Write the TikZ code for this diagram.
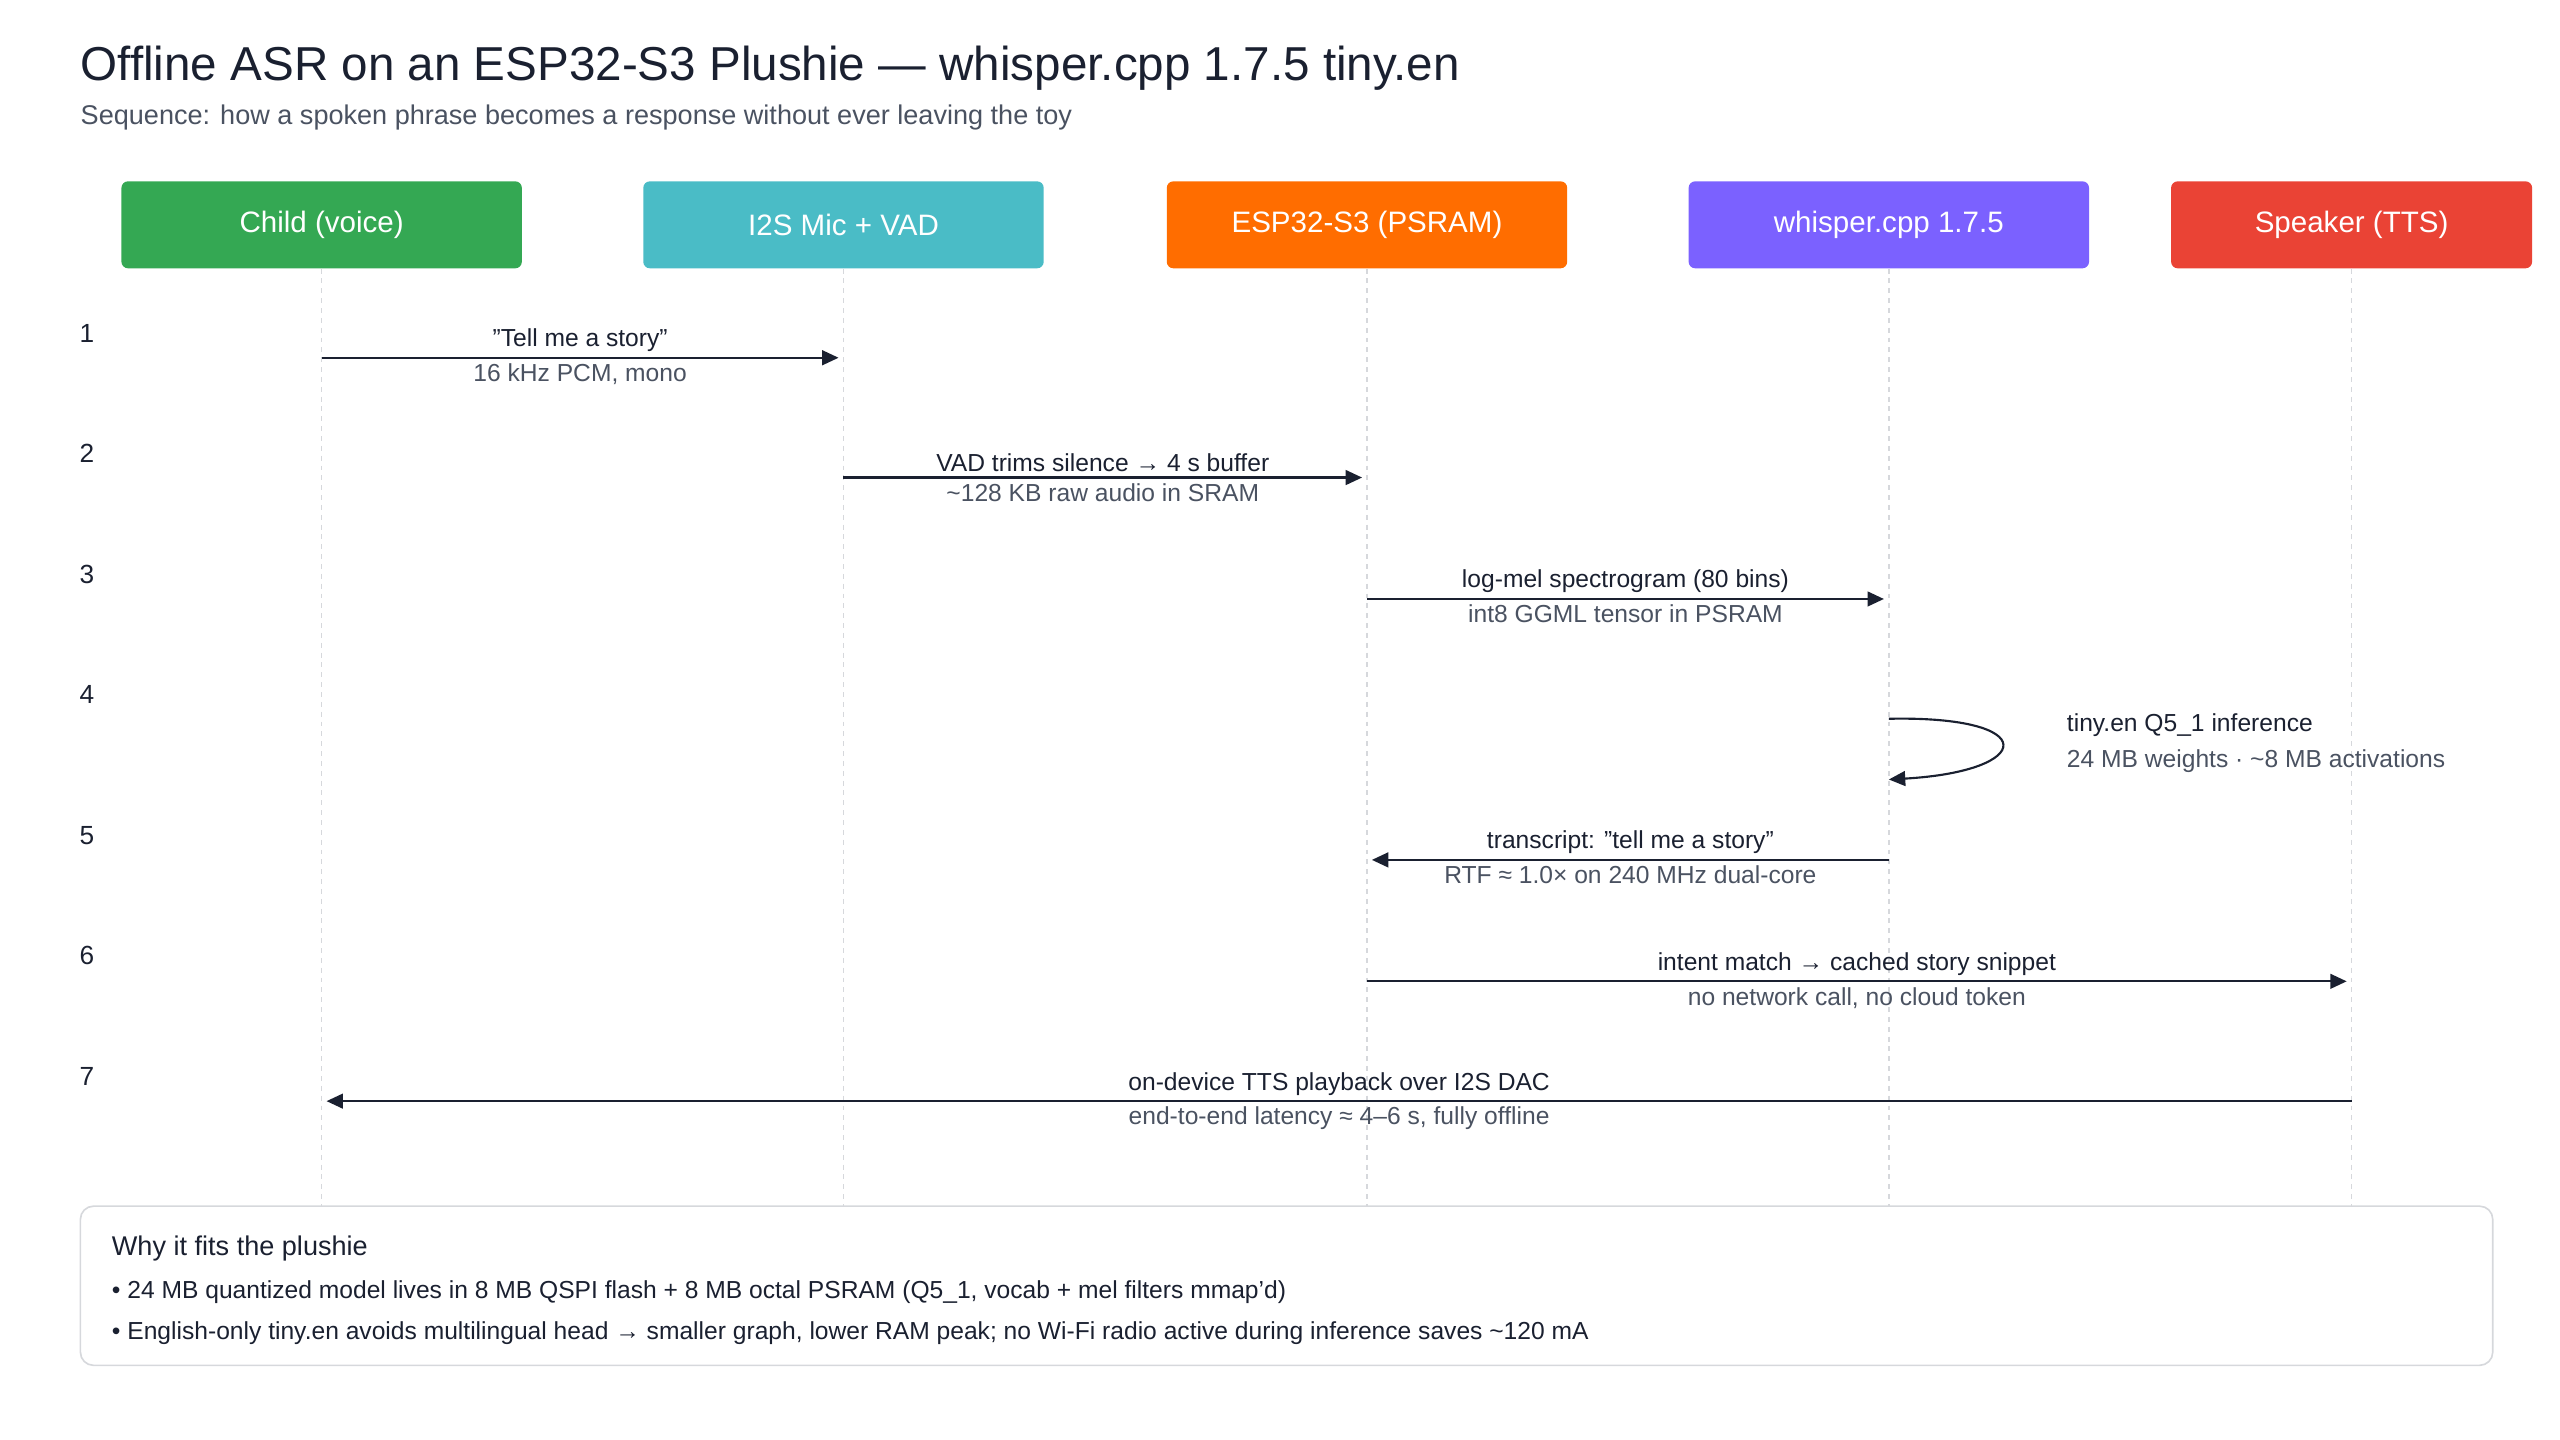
\documentclass[tikz,border=0pt]{standalone}
\usepackage{fontspec}
\setmainfont{Liberation Sans}
\usetikzlibrary{arrows.meta}
\definecolor{ink}{HTML}{1A2030}
\definecolor{muted}{HTML}{4A5261}
\definecolor{rule}{HTML}{D6D8DC}
\definecolor{cchild}{HTML}{34A853}
\definecolor{cmic}{HTML}{4ABCC6}
\definecolor{cesp}{HTML}{FF6D00}
\definecolor{cwhisper}{HTML}{7B61FF}
\definecolor{cspeaker}{HTML}{EA4335}

\begin{document}
\begin{tikzpicture}[
      x=1pt,y=-1pt,
      actor/.style={rectangle,rounded corners=4pt,minimum width=244pt,minimum height=53pt,text=white,font=\fontsize{18}{20}\selectfont},
      lifeline/.style={rule,dashed,line width=0.8pt},
      message/.style={-{Triangle[length=10pt,width=9pt]},ink,line width=1.3pt},
      top label/.style={above,text=ink,font=\fontsize{15}{17}\selectfont,inner sep=3pt},
      bottom label/.style={below,text=muted,font=\fontsize{15}{17}\selectfont,inner sep=3pt},
      step number/.style={text=ink,font=\fontsize{16}{18}\selectfont},
    ]
    \useasboundingbox (0,0) rectangle (1560,877.5);
    % title
    \node[anchor=base west,text=ink,font=\fontsize{29}{32}\selectfont,inner sep=0] (title) at (49,49) {Offline ASR on an ESP32-S3 Plushie — whisper.cpp 1.7.5 tiny.en};
    \node[anchor=base west,text=muted,font=\fontsize{16.5}{18}\selectfont,inner sep=0] (subtitle) at (49,76) {Sequence: how a spoken phrase becomes a response without ever leaving the toy};
    % actors
    \node[actor,fill=cchild] (child) at (196,137) {Child (voice)};
    \node[actor,fill=cmic] (mic) at (514,137) {I2S Mic + VAD};
    \node[actor,fill=cesp] (esp) at (833,137) {ESP32-S3 (PSRAM)};
    \node[actor,fill=cwhisper] (whisper) at (1151,137) {whisper.cpp 1.7.5};
    \node[actor,fill=cspeaker,minimum width=220pt] (speaker) at (1433,137) {Speaker (TTS)};
    \foreach \a in {child,mic,esp,whisper,speaker}
      \coordinate (\a end) at (\a.south |- 0,735);
    \foreach \a in {child,mic,esp,whisper,speaker}
      \draw[lifeline] (\a.south) -- (\a end);
    % steps
    \foreach \n/\y in {1/203,2/276,3/350,4/423,5/509,6/582,7/656}
      \node[step number] (step\n) at (53,\y) {\n};
    % messages
    \coordinate (m1a) at (196,218); \coordinate (m1b) at (511,218);
    \draw[message] (m1a) -- node[top label] {"Tell me a story"} node[bottom label] {16 kHz PCM, mono} (m1b);
    \coordinate (m2a) at (514,291); \coordinate (m2b) at (830,291);
    \draw[message] (m2a) -- node[top label] {VAD trims silence → 4 s buffer} node[bottom label] {\textasciitilde128 KB raw audio in SRAM} (m2b);
    \coordinate (m3a) at (833,365); \coordinate (m3b) at (1148,365);
    \draw[message] (m3a) -- node[top label] {log-mel spectrogram (80 bins)} node[bottom label] {int8 GGML tensor in PSRAM} (m3b);
    \coordinate (m4a) at (1151,438); \coordinate (m4b) at (1151,475);
    \draw[message] (m4a) .. controls (1245,436) and (1240,470) .. (m4b);
    \node[anchor=west,text=ink,font=\fontsize{15}{17}\selectfont] (m4top) at (1256,442) {tiny.en Q5\_1 inference};
    \node[anchor=west,text=muted,font=\fontsize{15}{17}\selectfont] (m4bot) at (1256,464) {24 MB weights · \textasciitilde8 MB activations};
    \coordinate (m5a) at (1151,524); \coordinate (m5b) at (836,524);
    \draw[message] (m5a) -- node[top label] {transcript: "tell me a story"} node[bottom label] {RTF ≈ 1.0× on 240 MHz dual-core} (m5b);
    \coordinate (m6a) at (833,598); \coordinate (m6b) at (1430,598);
    \draw[message] (m6a) -- node[top label] {intent match → cached story snippet} node[bottom label] {no network call, no cloud token} (m6b);
    \coordinate (m7a) at (1433,671); \coordinate (m7b) at (199,671);
    \draw[message] (m7a) -- node[top label] {on-device TTS playback over I2S DAC} node[bottom label] {end-to-end latency ≈ 4–6 s, fully offline} (m7b);
    % notes
    \draw[rule,line width=1pt,rounded corners=8pt] (49,735) rectangle (1519,832);
    \node[anchor=base west,text=ink,font=\fontsize{16.5}{18}\selectfont,inner sep=0] (notes) at (68,765) {Why it fits the plushie};
    \node[anchor=base west,text=ink,font=\fontsize{15}{17}\selectfont,inner sep=0] (note1) at (68,791) {• 24 MB quantized model lives in 8 MB QSPI flash + 8 MB octal PSRAM (Q5\_1, vocab + mel filters mmap'd)};
    \node[anchor=base west,text=ink,font=\fontsize{15}{17}\selectfont,inner sep=0] (note2) at (68,816) {• English-only tiny.en avoids multilingual head → smaller graph, lower RAM peak; no Wi-Fi radio active during inference saves \textasciitilde120 mA};
\end{tikzpicture}
\end{document}
